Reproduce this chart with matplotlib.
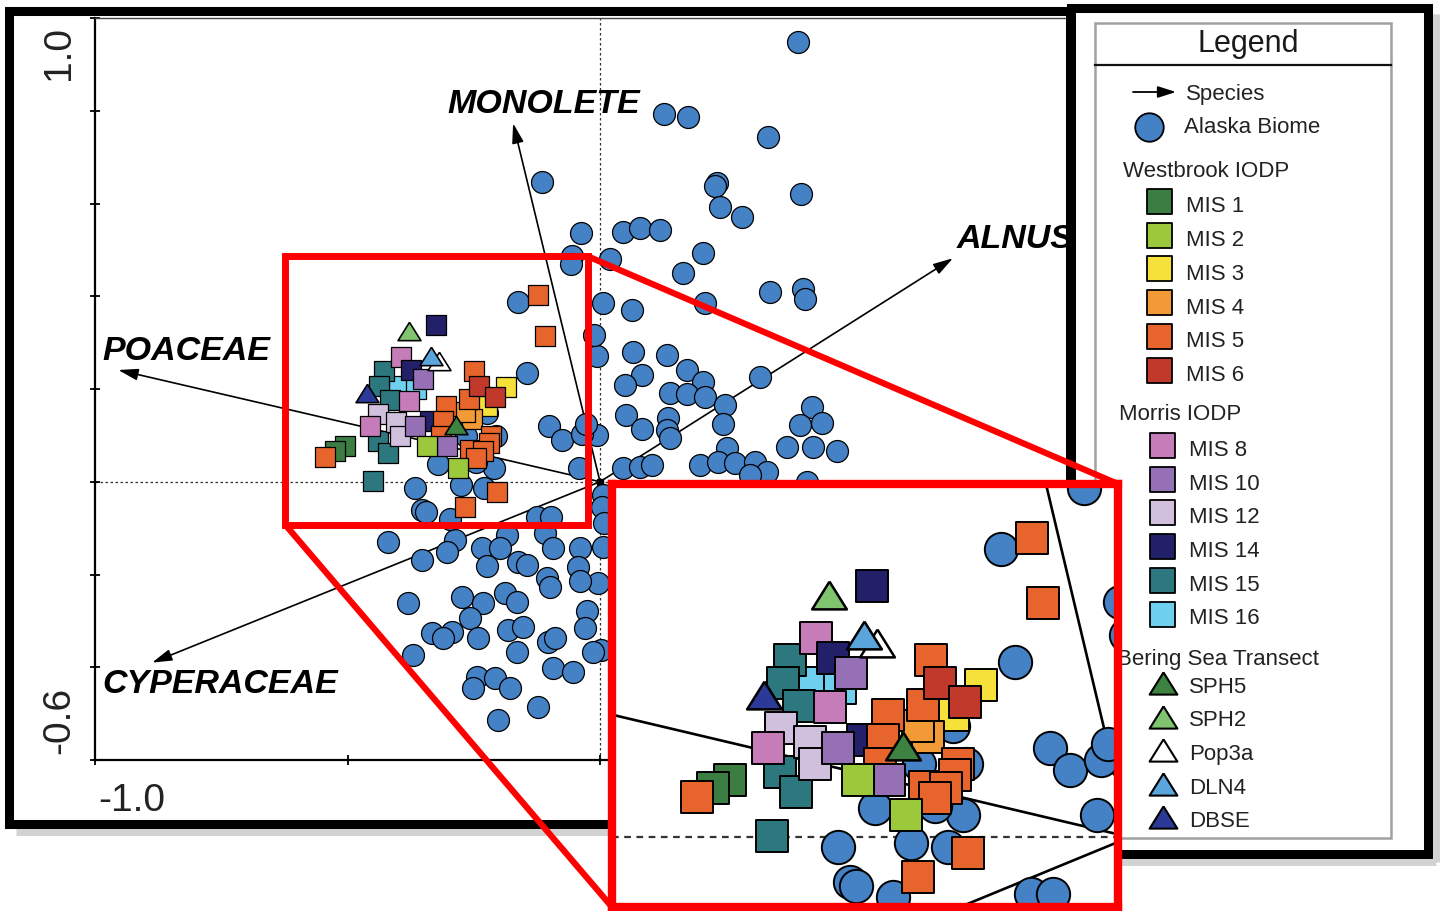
import numpy as np
import matplotlib.pyplot as plt
from matplotlib.patches import Rectangle, ConnectionPatch

plt.rcParams['font.family'] = ['Liberation Sans', 'DejaVu Sans']

# ordination scores (axis 1, axis 2)
alaska = np.array([
    (0.392, 0.948), (0.127, 0.793), (0.174, 0.786), (0.333, 0.743), (-0.115, 0.646),
    (0.232, 0.644), (0.228, 0.638), (0.398, 0.620), (0.238, 0.592), (0.281, 0.571),
    (-0.038, 0.536), (0.046, 0.538), (0.079, 0.547), (0.119, 0.543), (-0.055, 0.487),
    (0.020, 0.480), (0.204, 0.493), (0.164, 0.450), (0.337, 0.409), (0.402, 0.415),
    (0.406, 0.394), (0.006, 0.385), (0.063, 0.370), (0.208, 0.385), (-0.005, 0.272),
    (0.065, 0.280), (0.133, 0.273), (0.083, 0.230), (0.050, 0.209), (0.172, 0.241),
    (0.317, 0.226), (0.204, 0.215), (0.139, 0.191), (0.172, 0.189), (0.208, 0.183),
    (0.248, 0.165), (0.244, 0.125), (0.051, 0.144), (0.083, 0.114), (0.135, 0.137),
    (0.133, 0.112), (0.139, 0.094), (0.420, 0.161), (0.396, 0.122), (0.440, 0.127),
    (0.370, 0.075), (0.422, 0.075), (0.469, 0.066), (0.251, 0.073), (0.198, 0.036),
    (0.234, 0.042), (0.267, 0.040), (0.307, 0.042), (0.331, 0.021), (0.297, 0.014),
    (0.410, 0.000), (0.046, 0.030), (0.079, 0.032), (0.103, 0.036), (-0.006, 0.101),
    (0.006, -0.028), (0.004, -0.054), (0.008, -0.089), (0.006, -0.141), (-0.004, -0.218),
    (0.002, -0.363),
    (-0.420, -0.130), (-0.287, -0.125), (-0.303, -0.151), (-0.352, -0.168), (-0.184, -0.115),
    (-0.109, -0.111), (-0.234, -0.143), (-0.198, -0.143), (-0.224, -0.182), (-0.162, -0.173),
    (-0.145, -0.180), (-0.093, -0.143), (-0.040, -0.143), (-0.044, -0.184), (-0.105, -0.208),
    (-0.099, -0.227), (-0.040, -0.214), (-0.380, -0.262), (-0.273, -0.249), (-0.232, -0.262),
    (-0.188, -0.240), (-0.164, -0.259), (-0.257, -0.293), (-0.026, -0.278), (-0.030, -0.315),
    (-0.333, -0.326), (-0.293, -0.324), (-0.311, -0.337), (-0.242, -0.337), (-0.182, -0.320),
    (-0.152, -0.313), (-0.103, -0.345), (-0.089, -0.337), (-0.370, -0.374), (-0.164, -0.367),
    (-0.014, -0.367), (-0.093, -0.402), (-0.053, -0.410), (-0.244, -0.421), (-0.208, -0.423),
    (-0.251, -0.445), (-0.178, -0.445), (-0.123, -0.486), (-0.202, -0.514),
    (-0.162, 0.387), (-0.145, 0.235), (-0.058, 0.470), (-0.012, 0.316), (-0.101, 0.120),
    (-0.076, 0.090), (-0.036, 0.104), (-0.028, 0.125), (-0.042, 0.030), (-0.223, 0.149),
    (-0.206, 0.099), (-0.265, 0.099), (-0.321, 0.039), (-0.210, 0.030), (-0.245, 0.042),
    (-0.367, -0.013), (-0.275, -0.008), (-0.229, -0.013), (-0.353, -0.060), (-0.345, -0.066),
    (-0.298, -0.080), (-0.124, -0.076), (-0.097, -0.076),
])

# Westbrook IODP
mis1 = np.array([(-0.504, 0.077), (-0.525, 0.066)])
mis2 = np.array([(-0.342, 0.077), (-0.282, 0.030)])
mis3 = np.array([(-0.187, 0.205), (-0.223, 0.164)])
mis4 = np.array([(-0.254, 0.135), (-0.267, 0.150)])
mis5 = np.array([(-0.123, 0.402), (-0.109, 0.315), (-0.545, 0.054), (-0.250, 0.238),
                 (-0.260, 0.178), (-0.304, 0.164), (-0.311, 0.131), (-0.315, 0.099),
                 (-0.258, 0.068), (-0.216, 0.099), (-0.220, 0.084), (-0.231, 0.066),
                 (-0.246, 0.052), (-0.204, -0.022), (-0.267, -0.054)])
mis6 = np.array([(-0.239, 0.207), (-0.208, 0.182)])

# Morris IODP
mis8 = np.array([(-0.395, 0.268), (-0.378, 0.175), (-0.456, 0.120)])
mis10 = np.array([(-0.351, 0.221), (-0.367, 0.120), (-0.303, 0.077)])
mis12 = np.array([(-0.439, 0.147), (-0.403, 0.128), (-0.397, 0.099)])
mis14 = np.array([(-0.325, 0.338), (-0.374, 0.241), (-0.336, 0.131)])
mis15 = np.array([(-0.428, 0.238), (-0.437, 0.207), (-0.416, 0.176), (-0.440, 0.088),
                  (-0.420, 0.061), (-0.450, 0.002)])
mis16 = np.array([(-0.399, 0.207), (-0.365, 0.200)])

# Bering Sea transect
sph5 = np.array([(-0.286, 0.122)])
sph2 = np.array([(-0.379, 0.326)])
pop3a = np.array([(-0.319, 0.261)])
dln4 = np.array([(-0.335, 0.272)])
dbse = np.array([(-0.461, 0.191)])

species = ['MONOLETE', 'POACEAE', 'CYPERACEAE', 'ALNUS']
species_tips = np.array([(-0.172, 0.773), (-0.954, 0.241), (-0.887, -0.390), (0.699, 0.482)])

westbrook_labels = ['MIS 1', 'MIS 2', 'MIS 3', 'MIS 4', 'MIS 5', 'MIS 6']
westbrook_colors = ['#3b7d42', '#9cc83c', '#f6e03a', '#f29a35', '#e7652d', '#c0392b']
morris_labels = ['MIS 8', 'MIS 10', 'MIS 12', 'MIS 14', 'MIS 15', 'MIS 16']
morris_colors = ['#c67cb8', '#9670b4', '#d0c0de', '#23206a', '#2d777e', '#6ed0ee']
bering_labels = ['SPH5', 'SPH2', 'Pop3a', 'DLN4', 'DBSE']
bering_colors = ['#3e8241', '#80c46f', '#ffffff', '#5aa6dc', '#2b3a96']
blue = '#4581c5'

# zoom window and inset view
zoom_x = (-0.623, -0.024)
zoom_y = (-0.093, 0.486)
inset_xlim = (-0.652, -0.015)
inset_ylim = (-0.094, 0.475)

squares = dict(zip(westbrook_labels + morris_labels,
                   zip([mis1, mis2, mis3, mis4, mis5, mis6, mis8, mis10, mis12, mis14, mis15, mis16],
                       westbrook_colors + morris_colors)))
square_order = ['MIS 16', 'MIS 15', 'MIS 12', 'MIS 8', 'MIS 14', 'MIS 1',
                'MIS 3', 'MIS 4', 'MIS 5', 'MIS 6', 'MIS 10', 'MIS 2']
triangles = list(zip([sph5, sph2, pop3a, dln4, dbse], bering_colors))
tri_order = [4, 1, 2, 3, 0]
# closed, slightly flattened triangle
tri = [(0, 0.8), (-1, -0.8), (1, -0.8), (0, 0.8)]


def draw_samples(a, d_circ, d_sq, d_tri, lw):
    a.scatter(alaska[:, 0], alaska[:, 1], s=d_circ ** 2, color=blue,
              edgecolors='k', linewidths=lw, zorder=3)
    for key in square_order:
        pts, col = squares[key]
        a.scatter(pts[:, 0], pts[:, 1], s=d_sq ** 2, marker='s', color=col,
                  edgecolors='k', linewidths=lw, zorder=4)
    for i in tri_order:
        pts, col = triangles[i]
        a.scatter(pts[:, 0], pts[:, 1], s=d_tri ** 2, marker=tri, color=col,
                  edgecolors='k', linewidths=lw * 1.3, zorder=5)


W, H = 1442, 911
fig = plt.figure(figsize=(W / 100, H / 100), dpi=100)
fig.patch.set_facecolor('white')


def px_rect(x0, y0, x1, y1):
    return [x0 / W, 1 - y1 / H, (x1 - x0) / W, (y1 - y0) / H]


# main ordination plot
ax = fig.add_axes(px_rect(95, 18, 1105, 760), zorder=1)
ax.set_xlim(-1.0, 1.0)
ax.set_ylim(-0.6, 1.0)
ax.spines['right'].set_visible(False)
ax.spines['top'].set_linewidth(1.0)
ax.spines['top'].set_color('#444444')
for s in ('left', 'bottom'):
    ax.spines[s].set_linewidth(1.6)
ax.set_xticks([-1.0, -0.5, 0.0, 0.5, 1.0])
ax.set_yticks(np.round(np.arange(-0.6, 1.01, 0.2), 1))
ax.set_xticklabels([])
ax.set_yticklabels([])
ax.tick_params(direction='inout', length=7, width=1.3, top=False, right=False)

ax.axhline(0, color='#333333', lw=0.9, ls=(0, (2, 2)), zorder=1)
ax.axvline(0, color='#333333', lw=0.9, ls=(0, (2, 2)), zorder=1)

for tx, ty in species_tips:
    ax.annotate('', xy=(tx, ty), xytext=(0, 0), zorder=2,
                arrowprops=dict(arrowstyle='-|>,head_length=1.2,head_width=0.35',
                                color='k', lw=1.2, shrinkA=0, shrinkB=0))
ax.plot(0, 0, 's', color='k', ms=5, zorder=3)

draw_samples(ax, 15.8, 14.6, 16.5, 0.9)

label_at = [(-0.303, 0.795), (-0.986, 0.263), (-0.986, -0.455), (0.707, 0.504)]
for name, (lx, ly) in zip(species, label_at):
    ax.text(lx, ly, name, fontsize=24.5, fontweight='bold', fontstyle='italic',
            ha='left', va='baseline', zorder=6)

ax.text(-0.0356, 0.925, '1.0', transform=ax.get_yaxis_transform(), rotation=90,
        ha='center', va='center', fontsize=28, color='#222222')
ax.text(-0.0356, -0.514, '-0.6', transform=ax.get_yaxis_transform(), rotation=90,
        ha='center', va='center', fontsize=28, color='#222222')
ax.text(-0.927, -0.0553, '-1.0', transform=ax.get_xaxis_transform(),
        ha='center', va='center', fontsize=28, color='#222222')

ax.add_patch(Rectangle((zoom_x[0], zoom_y[0]), zoom_x[1] - zoom_x[0], zoom_y[1] - zoom_y[0],
                       fill=False, ec='#ff0000', lw=5, zorder=7, clip_on=False))

# frames and legend panel
ov = fig.add_axes([0, 0, 1, 1], zorder=3)
ov.set_xlim(0, W)
ov.set_ylim(H, 0)
ov.axis('off')

ov.plot([16, 1072], [832, 832], color='#d2d2d2', lw=5, solid_capstyle='butt')
ov.plot([1078, 1436], [862, 862], color='#d2d2d2', lw=5, solid_capstyle='butt')
ov.plot([1436, 1436], [14, 862], color='#d2d2d2', lw=5, solid_capstyle='butt')
ov.add_patch(Rectangle((8.5, 11), 1061.5, 813, fill=False, ec='k', lw=6.5))
ov.add_patch(Rectangle((1071, 8), 357, 846, fc='white', ec='k', lw=6.5))
ov.add_patch(Rectangle((1095, 23), 296, 815, fill=False, ec='#a0a0a0', lw=1.8))
ov.plot([1095, 1391], [65, 65], color='#111111', lw=1.6)

txt = dict(fontsize=16, va='baseline', color='#222222')
ov.text(1248, 52, 'Legend', fontsize=22, ha='center', va='baseline', color='#1a1a1a')
ov.annotate('', xy=(1176, 92), xytext=(1133, 92),
            arrowprops=dict(arrowstyle='-|>,head_length=1.1,head_width=0.35',
                            color='k', lw=1.3, shrinkA=0, shrinkB=0))
ov.text(1186, 100, 'Species', **txt)
ov.scatter([1149], [127], s=20.5 ** 2, color=blue, edgecolors='k', linewidths=1.3)
ov.text(1184, 133, 'Alaska Biome', **txt)

ov.text(1123, 177, 'Westbrook IODP', **txt)
for i, (lab, col) in enumerate(zip(westbrook_labels, westbrook_colors)):
    yy = 201 + i * 33.7
    ov.scatter([1159], [yy], marker='s', s=18 ** 2, color=col, edgecolors='k', linewidths=1.3)
    ov.text(1186, yy + 11.5, lab, **txt)

ov.text(1119, 420, 'Morris IODP', **txt)
for i, (lab, col) in enumerate(zip(morris_labels, morris_colors)):
    yy = 445 + i * 33.7
    ov.scatter([1162], [yy], marker='s', s=18 ** 2, color=col, edgecolors='k', linewidths=1.3)
    ov.text(1189, yy + 11, lab, **txt)

ov.text(1117, 665, 'Bering Sea Transect', **txt)
for i, (lab, col) in enumerate(zip(bering_labels, bering_colors)):
    yy = 683 + i * 33.5
    ov.scatter([1163], [yy], marker=tri, s=20 ** 2, color=col, edgecolors='k', linewidths=1.5)
    ov.text(1189, yy + 10, lab, **txt)

# magnified view of the sample cluster
axin = fig.add_axes(px_rect(612, 484, 1118, 907), zorder=5)
axin.set_xlim(*inset_xlim)
axin.set_ylim(*inset_ylim)
axin.set_xticks([])
axin.set_yticks([])
for sp in axin.spines.values():
    sp.set_color('#ff0000')
    sp.set_linewidth(6)
    sp.set_zorder(10)
axin.axhline(0, color='#333333', lw=1.6, ls=(0, (3, 2.5)), zorder=1)
for tx, ty in species_tips:
    axin.plot([0, tx], [0, ty], color='k', lw=1.9, zorder=2)
draw_samples(axin, 24.0, 23.3, 25.0, 1.4)

for ptA, ptB in [((zoom_x[1], zoom_y[1]), (1, 1)), ((zoom_x[0], zoom_y[0]), (0, 0))]:
    con = ConnectionPatch(xyA=ptA, coordsA=ax.transData, xyB=ptB, coordsB=axin.transAxes,
                          color='#ff0000', lw=4.5)
    con.set_zorder(4)
    fig.add_artist(con)

fig.savefig('out.png', dpi=100, facecolor='white')
